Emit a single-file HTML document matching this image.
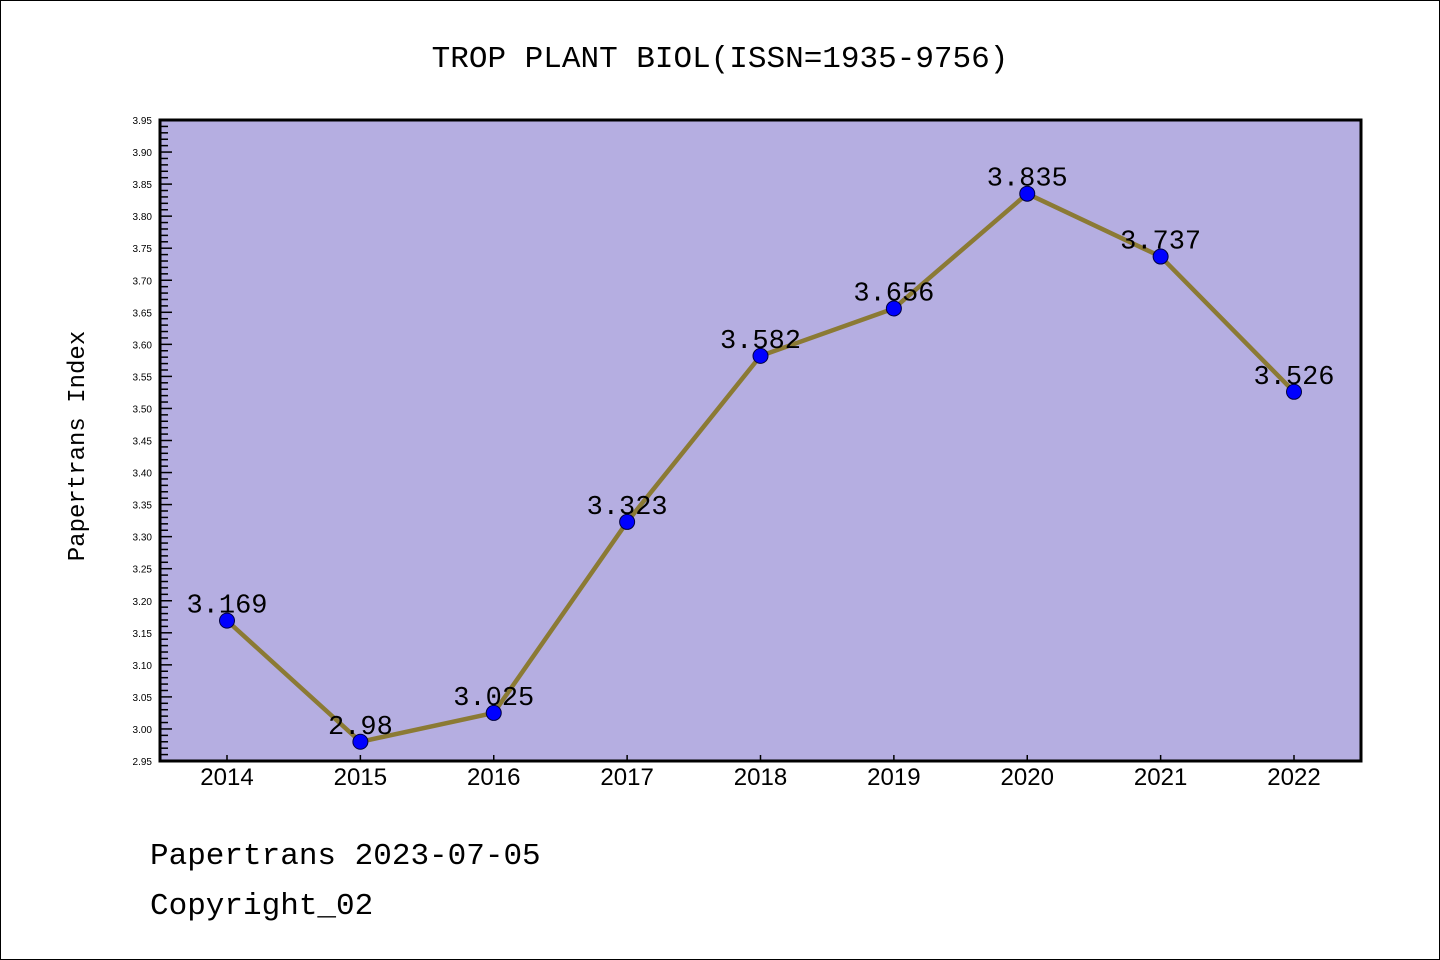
<!DOCTYPE html>
<html><head><meta charset="utf-8"><style>
html,body{margin:0;padding:0;background:#fff;}
svg{display:block;font-family:"Liberation Sans","WenQuanYi Zen Hei",sans-serif;}
</style></head><body>
<svg id="chart" width="1440" height="960" xmlns="http://www.w3.org/2000/svg">
<rect x="0.5" y="0.5" width="1439" height="959" fill="#fff" stroke="#000"/>
<text x="720" y="67" text-anchor="middle" font-size="31" font-family="'Liberation Mono','WenQuanYi Zen Hei',monospace">TROP PLANT BIOL(ISSN=1935-9756)</text>
<rect x="160" y="120" width="1201" height="641" fill="#b5aee1"/>
<g id="ticks"></g>
<g id="series"></g>
<rect x="160" y="120" width="1201" height="641" fill="none" stroke="#000" stroke-width="3"/>
<text transform="translate(84,446) rotate(-90)" text-anchor="middle" font-size="24" font-family="'Liberation Mono','WenQuanYi Zen Hei',monospace">Papertrans Index</text>
<text x="150" y="864" font-size="31" font-family="'Liberation Mono','WenQuanYi Zen Hei',monospace">Papertrans 2023-07-05</text>
<text x="150" y="914" font-size="31" font-family="'Liberation Mono','WenQuanYi Zen Hei',monospace">Copyright_02</text>
</svg>
<script>
const categories = ["2014","2015","2016","2017","2018","2019","2020","2021","2022"];
const values = [3.169,2.98,3.025,3.323,3.582,3.656,3.835,3.737,3.526];
const valueLabels = ["3.169","2.98","3.025","3.323","3.582","3.656","3.835","3.737","3.526"];
const yTickLabels = ["2.95","3.00","3.05","3.10","3.15","3.20","3.25","3.30","3.35","3.40","3.45","3.50","3.55","3.60","3.65","3.70","3.75","3.80","3.85","3.90","3.95"];
const NS="http://www.w3.org/2000/svg";
const yMin=2.95,yMax=3.95,plotTop=120,plotBot=761,plotLeft=160;
function yS(v){return plotBot-(v-yMin)/(yMax-yMin)*(plotBot-plotTop);}
function xS(i){return 227+i*(1294-227)/(categories.length-1);}
function mk(tag,attrs,parent){const e=document.createElementNS(NS,tag);for(const k in attrs)e.setAttribute(k,attrs[k]);parent.appendChild(e);return e;}
const tg=document.getElementById('ticks');
for(let k=0;k<=100;k++){
  const v=yMin+k*0.01, yy=yS(v), major=k%5===0;
  const l=mk('line',{x1:plotLeft,x2:plotLeft+(major?12:8),y1:yy,y2:yy,stroke:'#000','stroke-width':1.5},tg);
  
  
}
yTickLabels.forEach(function(t){
  const tx=mk('text',{x:152,y:yS(parseFloat(t))+4,'text-anchor':'end','font-size':10},tg);
  tx.textContent=t;
  
  
});
categories.forEach(function(c,i){
  const l=mk('line',{x1:xS(i),x2:xS(i),y1:plotBot,y2:plotBot-6,stroke:'#000','stroke-width':1.5},tg);
  
  
  const t=mk('text',{x:xS(i),y:785,'text-anchor':'middle','font-size':24},tg);
  t.textContent=c;
  
  
});
const sg=document.getElementById('series');
const pl=mk('polyline',{points:values.map((v,i)=>xS(i)+','+yS(v)).join(' '),fill:'none',stroke:'#8b7a34','stroke-width':4.5,'stroke-linejoin':'round'},sg);


values.forEach(function(v,i){
  const c=mk('circle',{cx:xS(i),cy:yS(v),r:7.5,fill:'#0000ff',stroke:'#000040','stroke-width':1},sg);
  
  
  const t=mk('text',{x:xS(i),y:yS(v)-8,'text-anchor':'middle','font-size':27,'font-family':"'Liberation Mono','WenQuanYi Zen Hei',monospace"},sg);
  t.textContent=valueLabels[i];
  
  
});
</script>
</body></html>
